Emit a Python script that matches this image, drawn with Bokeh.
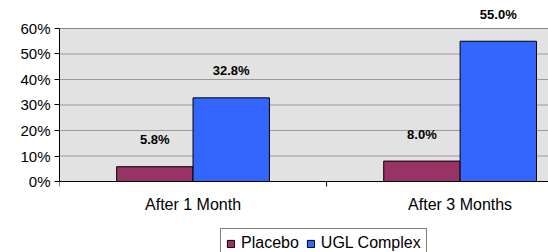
import math
from bokeh.plotting import figure
from bokeh.models import ColumnDataSource, Range1d, FixedTicker, Legend, LegendItem, LabelSet, CustomJSTickFormatter, Span
from bokeh.core.properties import value
from bokeh.embed import file_html
from bokeh.resources import INLINE

categories = ["After 1 Month", "After 3 Months"]
series_names = ["Placebo", "UGL Complex"]
placebo = [5.8, 8.0]
ugl = [32.8, 55.0]
colors = ["#993366", "#3366FF"]
y_ticks = [0, 10, 20, 30, 40, 50, 60]

X_END = 1.831
Y_TOP = 60
p = figure(width=548, height=252, output_backend="svg", toolbar_location=None,
           x_range=Range1d(0, X_END), y_range=Range1d(-27.84, 69.8),
           min_border_left=59, min_border_top=3, min_border_bottom=0, min_border_right=0)
p.background_fill_color = "white"
p.border_fill_color = "white"
p.outline_line_color = None

# plot-area background up to 60%
p.quad(left=[0], right=[X_END], bottom=[0], top=[Y_TOP], fill_color="#e2e2e2", line_color=None)
p.segment(x0=[0], x1=[X_END], y0=[Y_TOP], y1=[Y_TOP], line_color="#8a8a8a", line_width=1)
p.segment(x0=[0] * 5, x1=[X_END] * 5, y0=y_ticks[1:-1], y1=y_ticks[1:-1], line_color="#9a9a9a", line_width=1)

bw = 0.286
renderers = []
for i, (name, vals, col) in enumerate(zip(series_names, [placebo, ugl], colors)):
    xs = [k + 0.5 + (i - 0.5) * bw for k in range(len(categories))]
    src = ColumnDataSource(dict(x=xs, top=vals, lab=["%.1f%%" % v for v in vals]))
    r = p.vbar(x="x", top="top", width=bw, source=src, fill_color=col,
               line_color="black", line_width=1)
    renderers.append(r)
    p.add_layout(LabelSet(x="x", y="top", text="lab", source=src, text_align="center",
                          text_baseline="middle", y_offset=27, text_font=value("Liberation Sans"),
                          text_font_style="bold", text_font_size="13px", text_color="black"))

# category axis (drawn at y=0 inside the frame)
p.add_layout(Span(location=0, dimension="width", line_color="black", line_width=1))
p.ray(x=[0, 1], y=[0, 0], length=5, length_units="screen", angle=-math.pi / 2,
      line_color="black", line_width=1)
cat_src = ColumnDataSource(dict(x=[k + 0.5 for k in range(len(categories))], y=[0] * len(categories), t=categories))
p.text(x="x", y="y", text="t", source=cat_src, text_align="center", text_baseline="middle",
       y_offset=23, text_font=value("Liberation Sans"), text_font_size="16px", text_color="black")
p.xaxis.visible = False

p.yaxis.ticker = FixedTicker(ticks=y_ticks)
p.yaxis.bounds = (0, Y_TOP)
p.yaxis.formatter = CustomJSTickFormatter(code="return tick.toFixed(0) + '%';")
p.yaxis.major_label_text_font = "Liberation Sans"
p.yaxis.major_label_text_font_size = "15px"
p.yaxis.major_label_text_color = "black"
p.yaxis.axis_line_color = "black"
p.yaxis.major_tick_line_color = "black"
p.yaxis.major_tick_out = 5
p.yaxis.major_tick_in = 0
p.yaxis.minor_tick_line_color = None
p.yaxis.major_label_standoff = 4

p.xgrid.grid_line_color = None
p.ygrid.grid_line_color = None

legend = Legend(items=[LegendItem(label=n, renderers=[r]) for n, r in zip(series_names, renderers)],
                orientation="horizontal", location=(161, -6),
                label_text_font="Liberation Sans", label_text_font_size="16px",
                label_text_color="black",
                glyph_width=9, glyph_height=9, label_standoff=6, spacing=7,
                padding=5, margin=0, border_line_color="black", border_line_width=1,
                background_fill_color="white", background_fill_alpha=1,
                label_height=16)
p.add_layout(legend, "center")

open("out.html", "w").write(file_html(p, INLINE))
